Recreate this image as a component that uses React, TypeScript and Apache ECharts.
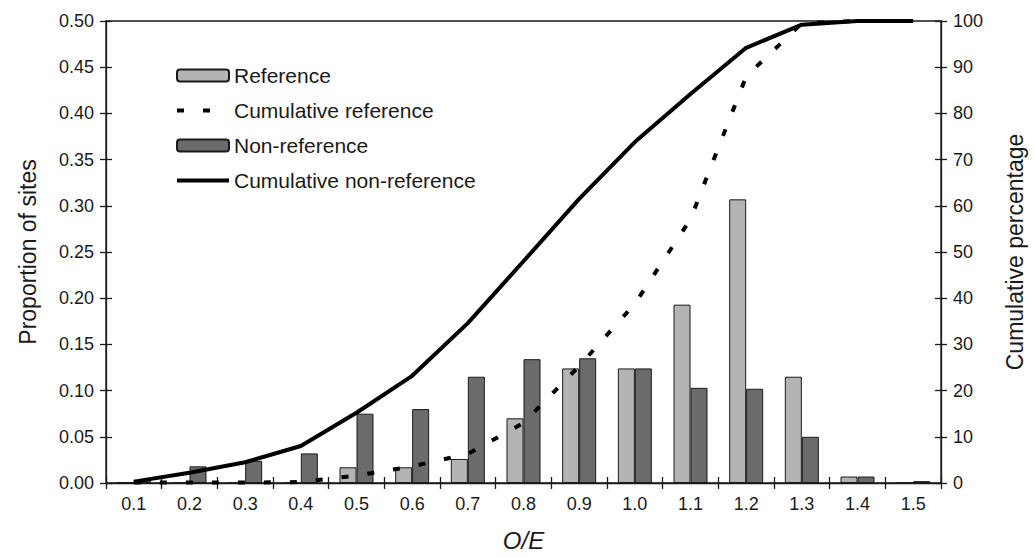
import React, { useEffect, useRef } from "react";
import * as echarts from "echarts";

const categories = ["0.1", "0.2", "0.3", "0.4", "0.5", "0.6", "0.7", "0.8", "0.9", "1.0", "1.1", "1.2", "1.3", "1.4", "1.5"];
const referenceProp = [0.001, 0, 0, 0, 0.017, 0.017, 0.026, 0.07, 0.124, 0.124, 0.193, 0.307, 0.115, 0.007, 0];
const nonReferenceProp = [0.003, 0.018, 0.024, 0.032, 0.075, 0.08, 0.115, 0.134, 0.135, 0.124, 0.103, 0.102, 0.05, 0.007, 0.002];
const cumReference = [0.1, 0.1, 0.1, 0.2, 1.6, 3.6, 6.3, 13.0, 25.3, 38.8, 57.1, 88.0, 99.5, 100, 100];
const cumNonReference = [0.3, 2.2, 4.5, 8.0, 15.2, 23.2, 34.6, 48.0, 61.5, 73.8, 84.2, 94.2, 99.2, 100, 100];

const FONT = "'Liberation Sans', Arial, Helvetica, sans-serif";
const INK = "#1a1a1a";

export default function App() {
  const ref = useRef<HTMLDivElement>(null);
  useEffect(() => {
    if (!ref.current) return;
    const chart = echarts.init(ref.current, null, { renderer: "svg" });
    const tickCommon = { show: true, length: 6, lineStyle: { color: INK, width: 1.3 } };
    chart.setOption({
      animation: false,
      backgroundColor: "#ffffff",
      textStyle: { fontFamily: FONT, color: INK },
      grid: {
        left: 106,
        right: 88,
        top: 21,
        bottom: 66,
        show: true,
        borderColor: INK,
        borderWidth: 1.3,
        backgroundColor: "transparent",
      },
      legend: {
        orient: "vertical",
        left: 170,
        top: 60,
        itemWidth: 52,
        itemHeight: 12,
        itemGap: 14,
        textStyle: { fontSize: 21, color: INK, fontFamily: FONT },
        data: [
          { name: "Reference" },
          { name: "Cumulative reference", itemStyle: { opacity: 0 }, lineStyle: { width: 4, color: "#000", type: [7, 19] } },
          { name: "Non-reference" },
          { name: "Cumulative non-reference", itemStyle: { opacity: 0 }, lineStyle: { width: 4, color: "#000" } },
        ],
      },
      xAxis: [
        {
          type: "category",
          data: categories,
          position: "bottom",
          name: "O/E",
          nameLocation: "middle",
          nameGap: 45,
          nameTextStyle: { fontSize: 24, fontStyle: "italic", color: INK, fontFamily: FONT },
          axisLine: { show: true, lineStyle: { color: INK, width: 1.3 } },
          axisTick: { ...tickCommon, inside: false },
          axisLabel: { fontSize: 18, color: INK, margin: 12, fontFamily: FONT },
          splitLine: { show: false },
        },
        {
          type: "category",
          data: categories,
          position: "bottom",
          axisLine: { show: false },
          axisTick: { ...tickCommon, inside: true },
          axisLabel: { show: false },
          splitLine: { show: false },
        },
      ],
      yAxis: [
        {
          type: "value",
          position: "left",
          min: 0,
          max: 0.5,
          interval: 0.05,
          name: "Proportion of sites",
          nameLocation: "middle",
          nameGap: 67,
          nameRotate: 90,
          nameTextStyle: { fontSize: 23, color: INK, fontFamily: FONT },
          axisLine: { show: true, lineStyle: { color: INK, width: 1.3 } },
          axisTick: { ...tickCommon, inside: false },
          axisLabel: { fontSize: 18, color: INK, margin: 12, fontFamily: FONT, formatter: (v: number) => v.toFixed(2) },
          splitLine: { show: false },
        },
        {
          type: "value",
          position: "right",
          min: 0,
          max: 100,
          interval: 10,
          name: "Cumulative percentage",
          nameLocation: "middle",
          nameGap: 62,
          nameRotate: 90,
          nameTextStyle: { fontSize: 23, color: INK, fontFamily: FONT },
          axisLine: { show: true, lineStyle: { color: INK, width: 1.3 } },
          axisTick: { ...tickCommon, inside: false },
          axisLabel: { fontSize: 18, color: INK, margin: 12, fontFamily: FONT },
          splitLine: { show: false },
        },
        {
          type: "value",
          position: "left",
          min: 0,
          max: 0.5,
          interval: 0.05,
          axisLine: { show: false },
          axisTick: { ...tickCommon, inside: true },
          axisLabel: { show: false },
          splitLine: { show: false },
        },
        {
          type: "value",
          position: "right",
          min: 0,
          max: 100,
          interval: 10,
          axisLine: { show: false },
          axisTick: { ...tickCommon, inside: true },
          axisLabel: { show: false },
          splitLine: { show: false },
        },
      ],
      series: [
        {
          name: "Reference",
          type: "bar",
          xAxisIndex: 0,
          yAxisIndex: 0,
          data: referenceProp,
          barWidth: 17,
          barGap: "0%",
          itemStyle: { color: "#b4b4b4", borderColor: INK, borderWidth: 1 },
        },
        {
          name: "Non-reference",
          type: "bar",
          xAxisIndex: 0,
          yAxisIndex: 0,
          data: nonReferenceProp,
          barWidth: 17,
          barGap: "0%",
          itemStyle: { color: "#6b6b6b", borderColor: INK, borderWidth: 1 },
        },
        {
          name: "Cumulative reference",
          type: "line",
          xAxisIndex: 0,
          yAxisIndex: 1,
          data: cumReference,
          symbol: "none",
          lineStyle: { color: "#000", width: 4, type: [7, 19] },
          itemStyle: { color: "#000" },
          z: 5,
        },
        {
          name: "Cumulative non-reference",
          type: "line",
          xAxisIndex: 0,
          yAxisIndex: 1,
          data: cumNonReference,
          symbol: "none",
          lineStyle: { color: "#000", width: 4 },
          itemStyle: { color: "#000" },
          z: 6,
        },
      ],
    });
    return () => chart.dispose();
  }, []);
  return <div ref={ref} style={{ width: 1034, height: 557, position: "absolute", left: 0, top: 0 }} />;
}
